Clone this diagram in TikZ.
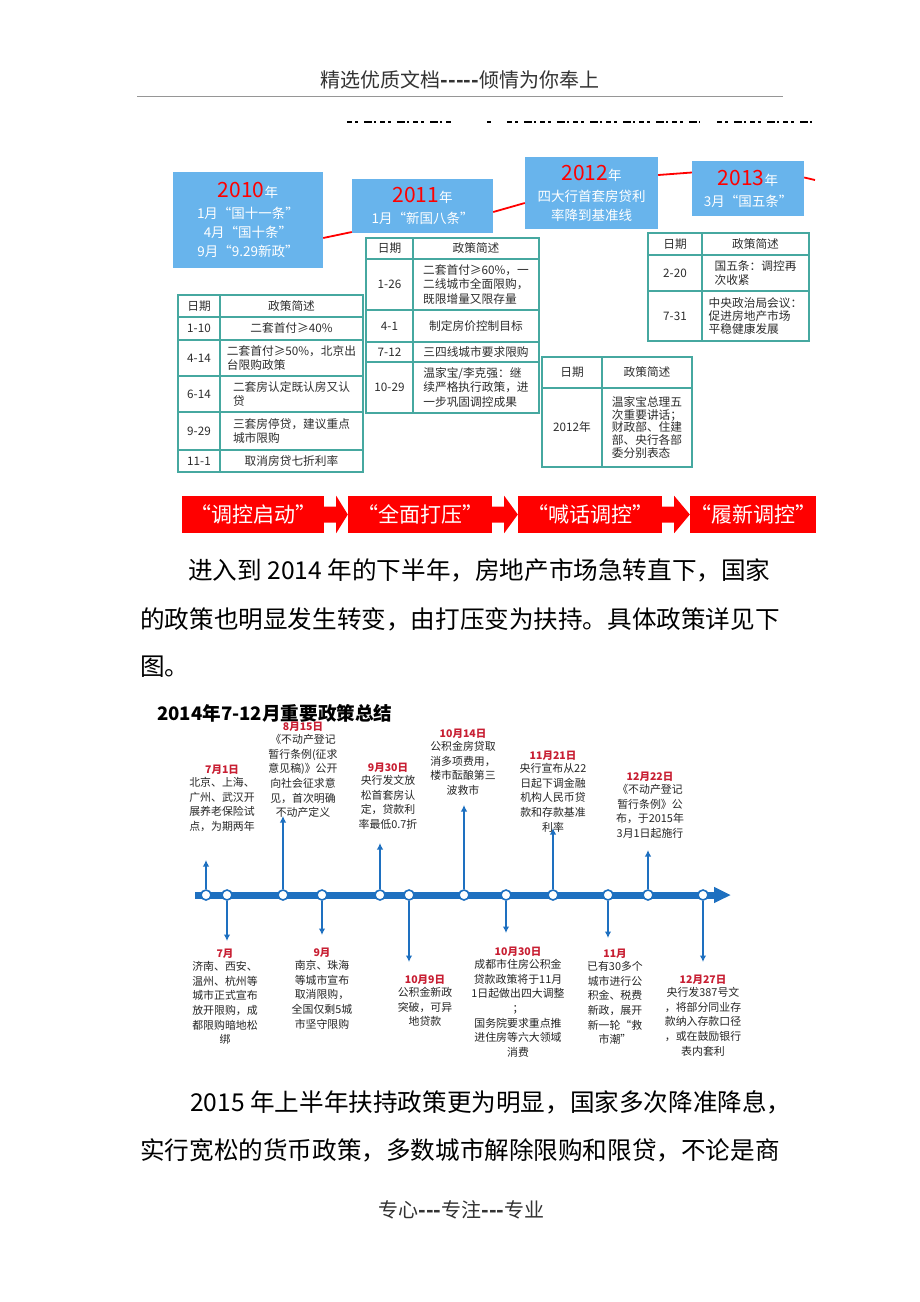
\documentclass[tikz,border=0pt]{standalone}
\usepackage{fontspec}
\setmainfont{Noto Sans CJK SC}
\usetikzlibrary{positioning,calc,arrows.meta}
\definecolor{boxblue}{RGB}{104,180,236}
\definecolor{yearred}{RGB}{255,0,0}
\definecolor{tabteal}{RGB}{70,168,160}
\definecolor{cellgray}{RGB}{45,45,45}
\definecolor{bannerred}{RGB}{255,0,0}
\definecolor{tlblue}{RGB}{30,112,192}
\definecolor{datered}{RGB}{200,30,50}
\definecolor{rulegray}{RGB}{150,150,150}
\newcommand{\yearlbl}[1]{{\color{yearred}\fontsize{21}{21}\selectfont #1}年}
\tikzset{
  yearbox/.style={rectangle, fill=boxblue, text=white, align=center, inner sep=0pt,
                  font=\fontsize{13.5}{19}\selectfont},
  redline/.style={red, line width=1.8pt},
  tabline/.style={draw=tabteal, line width=1.1pt},
  cell/.style={inner sep=0pt, text=cellgray, align=left, font=\fontsize{11.7}{14.2}\selectfont},
  banner/.style={rectangle, fill=bannerred, text=white, minimum height=37pt, inner sep=0pt,
                 font=\fontsize{21}{21}\selectfont},
  tlbar/.style={draw=tlblue, line width=7pt, -{Triangle[length=17pt,width=15pt]}},
  tlcirc/.style={circle, draw=tlblue, fill=white, line width=1.6pt, minimum size=10pt, inner sep=0pt},
  uparr/.style={draw=tlblue, line width=2.4pt, -{Latex[length=6.5pt,width=6.5pt]}},
  datelbl/.style={inner sep=0pt, text=datered, font=\bfseries\fontsize{10.5}{12}\selectfont},
  evtxt/.style={inner sep=0pt, align=center, text=black!85, font=\fontsize{10.9}{14.7}\selectfont},
  bodytxt/.style={inner sep=0pt, anchor=west, font=\fontsize{24.6}{30}\selectfont},
  pagetxt/.style={inner sep=0pt, text=black!80, font=\fontsize{20}{24}\selectfont},
}
\begin{document}
\begin{tikzpicture}[x=1pt, y=-1pt]
\fill[white] (0,0) rectangle (920,1302);
\useasboundingbox (0,0) rectangle (920,1302);

% -------------------- page header --------------------
\node[pagetxt] (head) at (460,80) {精选优质文档{\bfseries -{}-{}-{}-{}-}倾情为你奉上};
\draw[rulegray, line width=0.8pt] (137,96) -- (783,96);
\draw[black, line width=2.2pt, dash pattern=on 5pt off 3pt on 3pt off 6pt on 8pt off 2pt on 2pt off 4pt]
  (347,122) -- (453,122) (487,122) -- (491,122) (507,122) -- (700,122) (717,122) -- (815,122);

% -------------------- year boxes --------------------
\node[yearbox, minimum width=150pt, minimum height=96pt] (y2010) at (248,220)
  {\yearlbl{2010}\\[2pt]1月“国十一条”\\4月“国十条”\\9月“9.29新政”};
\node[yearbox, minimum width=141pt, minimum height=54pt] (y2011) at (422.5,206)
  {\yearlbl{2011}\\[2pt]1月“新国八条”};
\node[yearbox, minimum width=133pt, minimum height=72pt] (y2012) at (591.5,193)
  {\yearlbl{2012}\\[2pt]四大行首套房贷利\\率降到基准线};
\node[yearbox, minimum width=112pt, minimum height=55pt] (y2013) at (748,188.5)
  {\yearlbl{2013}\\[2pt]3月“国五条”};

\coordinate (redend) at (815,180);
\draw[redline] ($(y2010.east)+(0,18)$) -- ($(y2011.west)+(0,26)$)
  ($(y2011.east)+(0,6)$) -- ($(y2012.west)+(0,10)$)
  ($(y2012.east)+(0,-18)$) -- ($(y2013.west)+(0,-16)$)
  ($(y2013.east)+(0,-11)$) -- (redend);

% -------------------- table 2010 --------------------
\draw[tabline] (178,295) rectangle (363,472) (220,295) -- (220,472)
  (178,317) -- (363,317) (178,340) -- (363,340) (178,376) -- (363,376)
  (178,412) -- (363,412) (178,450) -- (363,450);
\node[cell] (ah1) at (199,306) {日期};
\node[cell] (ah2) at (291.5,306) {政策简述};
\node[cell] (ad1) at (199,328.5) {1-10};
\node[cell] (at1) at (291.5,328.5) {二套首付≥40\%};
\node[cell] (ad2) at (199,358) {4-14};
\node[cell] (at2) at (291.5,358) {二套首付≥50\%，北京出\\台限购政策};
\node[cell] (ad3) at (199,394) {6-14};
\node[cell] (at3) at (291.5,394) {二套房认定既认房又认\\贷};
\node[cell] (ad4) at (199,431) {9-29};
\node[cell] (at4) at (291.5,431) {三套房停贷，建议重点\\城市限购};
\node[cell] (ad5) at (199,461) {11-1};
\node[cell] (at5) at (291.5,461) {取消房贷七折利率};

% -------------------- table 2011 --------------------
\draw[tabline] (366,238) rectangle (539,413) (413,238) -- (413,413)
  (366,259) -- (539,259) (366,310) -- (539,310) (366,342) -- (539,342)
  (366,362) -- (539,362);
\node[cell] (bh1) at (389.5,248.5) {日期};
\node[cell] (bh2) at (476,248.5) {政策简述};
\node[cell] (bd1) at (389.5,284.5) {1-26};
\node[cell] (bt1) at (476,284.5) {二套首付≥60\%，一\\二线城市全面限购，\\既限增量又限存量};
\node[cell] (bd2) at (389.5,326) {4-1};
\node[cell] (bt2) at (476,326) {制定房价控制目标};
\node[cell] (bd3) at (389.5,352) {7-12};
\node[cell] (bt3) at (476,352) {三四线城市要求限购};
\node[cell] (bd4) at (389.5,387.5) {10-29};
\node[cell] (bt4) at (476,387.5) {温家宝/李克强：继\\续严格执行政策，进\\一步巩固调控成果};

% -------------------- table 2012 --------------------
\draw[tabline] (542,357) rectangle (692,467) (602,357) -- (602,467) (542,388) -- (692,388);
\node[cell] (ch1) at (572,372.5) {日期};
\node[cell] (ch2) at (647,372.5) {政策简述};
\node[cell] (cd1) at (572,427.5) {2012年};
\node[cell, font=\fontsize{11.7}{12.6}\selectfont] (ct1) at (647,427.5)
  {温家宝总理五\\次重要讲话；\\财政部、住建\\部、央行各部\\委分别表态};

% -------------------- table 2013 --------------------
\draw[tabline] (648,233) rectangle (809,341) (702,233) -- (702,341)
  (648,255) -- (809,255) (648,291) -- (809,291);
\node[cell] (dh1) at (675,244) {日期};
\node[cell] (dh2) at (755.5,244) {政策简述};
\node[cell] (dd1) at (675,273) {2-20};
\node[cell] (dt1) at (755.5,273) {国五条：调控再\\次收紧};
\node[cell] (dd2) at (675,316) {7-31};
\node[cell, font=\fontsize{11.7}{13.3}\selectfont] (dt2) at (755.5,316)
  {中央政治局会议：\\促进房地产市场\\平稳健康发展};

% -------------------- stage banner --------------------
\node[banner, minimum width=142pt] (s1) at (253,514.5) {“调控启动”};
\node[banner, minimum width=144pt] (s2) at (420,514.5) {“全面打压”};
\node[banner, minimum width=144pt] (s3) at (590,514.5) {“喊话调控”};
\node[banner, minimum width=124pt] (s4) at (753,514.5) {“履新调控”};
\fill[bannerred] ($(s1.east)+(0,-8)$) -- ($(s1.east)+(12,-8)$) -- ($(s1.north east)+(12,0)$)
  -- (s2.west) -- ($(s1.south east)+(12,0)$) -- ($(s1.east)+(12,8)$) -- ($(s1.east)+(0,8)$) -- cycle;
\fill[bannerred] ($(s2.east)+(0,-8)$) -- ($(s2.east)+(12,-8)$) -- ($(s2.north east)+(12,0)$)
  -- (s3.west) -- ($(s2.south east)+(12,0)$) -- ($(s2.east)+(12,8)$) -- ($(s2.east)+(0,8)$) -- cycle;
\fill[bannerred] ($(s3.east)+(0,-8)$) -- ($(s3.east)+(12,-8)$) -- ($(s3.north east)+(12,0)$)
  -- (s4.west) -- ($(s3.south east)+(12,0)$) -- ($(s3.east)+(12,8)$) -- ($(s3.east)+(0,8)$) -- cycle;

% -------------------- paragraph --------------------
\node[bodytxt] (p1a) at (188,570) {进入到 2014 年的下半年，房地产市场急转直下，国家};
\node[bodytxt] (p1b) at (140,619) {的政策也明显发生转变，由打压变为扶持。具体政策详见下};
\node[bodytxt] (p1c) at (140,667) {图。};

% -------------------- 2014 timeline --------------------
\node[inner sep=0pt, anchor=west, font=\bfseries\fontsize{18.6}{20}\selectfont] (tltitle)
  at (157,713) {2014年7-12月重要政策总结};

\coordinate (tlstart) at (195,895);
\coordinate (tlend) at (731,895);
\draw[tlbar] (tlstart) -- (tlend);

\node[tlcirc] (c1) at (206,895) {};
\node[tlcirc] (c2) at (227,895) {};
\node[tlcirc] (c3) at (283,895) {};
\node[tlcirc] (c4) at (322,895) {};
\node[tlcirc] (c5) at (380,895) {};
\node[tlcirc] (c6) at (409,895) {};
\node[tlcirc] (c7) at (464,895) {};
\node[tlcirc] (c8) at (506,895) {};
\node[tlcirc] (c9) at (553,895) {};
\node[tlcirc] (c10) at (608,895) {};
\node[tlcirc] (c11) at (648,895) {};
\node[tlcirc] (c12) at (703,895) {};

\coordinate (u1) at (206,860);
\coordinate (u3) at (283,816);
\coordinate (u5) at (380,843);
\coordinate (u7) at (464,805);
\coordinate (u9) at (553,828);
\coordinate (u11) at (648,850);
\coordinate (dn2) at (227,941);
\coordinate (dn4) at (322,935);
\coordinate (dn6) at (409,962);
\coordinate (dn8) at (506,933);
\coordinate (dn10) at (608,938);
\coordinate (dn12) at (703,962);

\draw[uparr] (c1) -- (u1);
\draw[uparr] (c3) -- (u3);
\draw[uparr] (c5) -- (u5);
\draw[uparr] (c7) -- (u7);
\draw[uparr] (c9) -- (u9);
\draw[uparr] (c11) -- (u11);
\draw[uparr] (c2) -- (dn2);
\draw[uparr] (c4) -- (dn4);
\draw[uparr] (c6) -- (dn6);
\draw[uparr] (c8) -- (dn8);
\draw[uparr] (c10) -- (dn10);
\draw[uparr] (c12) -- (dn12);

% events above the line
\node[datelbl] (date1) at (222,770) {7月1日};
\node[evtxt, below=2pt of date1] (ev1) {北京、上海、\\广州、武汉开\\展养老保险试\\点，为期两年};
\node[datelbl] (date3) at (303,727) {8月15日};
\node[evtxt, below=2pt of date3] (ev3) {《不动产登记\\暂行条例(征求\\意见稿)》公开\\向社会征求意\\见，首次明确\\不动产定义};
\node[datelbl] (date5) at (388,768) {9月30日};
\node[evtxt, below=2pt of date5] (ev5) {央行发文放\\松首套房认\\定，贷款利\\率最低0.7折};
\node[datelbl] (date7) at (463,734) {10月14日};
\node[evtxt, below=2pt of date7] (ev7) {公积金房贷取\\消多项费用，\\楼市酝酿第三\\波救市};
\node[datelbl] (date9) at (553,756) {11月21日};
\node[evtxt, below=2pt of date9] (ev9) {央行宣布从22\\日起下调金融\\机构人民币贷\\款和存款基准\\利率};
\node[datelbl] (date11) at (650,777) {12月22日};
\node[evtxt, below=2pt of date11] (ev11) {《不动产登记\\暂行条例》公\\布，于2015年\\3月1日起施行};

% events below the line
\node[datelbl] (date2) at (225,954) {7月};
\node[evtxt, below=2pt of date2] (ev2) {济南、西安、\\温州、杭州等\\城市正式宣布\\放开限购，成\\都限购暗地松\\绑};
\node[datelbl] (date4) at (322,953) {9月};
\node[evtxt, below=2pt of date4] (ev4) {南京、珠海\\等城市宣布\\取消限购，\\全国仅剩5城\\市坚守限购};
\node[datelbl] (date6) at (425,980) {10月9日};
\node[evtxt, below=2pt of date6] (ev6) {公积金新政\\突破，可异\\地贷款};
\node[datelbl] (date8) at (518,952) {10月30日};
\node[evtxt, below=2pt of date8] (ev8) {成都市住房公积金\\贷款政策将于11月\\1日起做出四大调整\\；\\国务院要求重点推\\进住房等六大领域\\消费};
\node[datelbl] (date10) at (615,954) {11月};
\node[evtxt, below=2pt of date10] (ev10) {已有30多个\\城市进行公\\积金、税费\\新政，展开\\新一轮“救\\市潮”};
\node[datelbl] (date12) at (703,980) {12月27日};
\node[evtxt, below=2pt of date12] (ev12) {央行发387号文\\，将部分同业存\\款纳入存款口径\\，或在鼓励银行\\表内套利};

% -------------------- closing paragraph + footer --------------------
\node[bodytxt] (p2a) at (190,1102) {2015 年上半年扶持政策更为明显，国家多次降准降息，};
\node[bodytxt] (p2b) at (140,1150) {实行宽松的货币政策，多数城市解除限购和限贷，不论是商};
\node[pagetxt] (foot) at (461.5,1210) {专心{\bfseries -{}-{}-}专注{\bfseries -{}-{}-}专业};

\end{tikzpicture}
\end{document}
